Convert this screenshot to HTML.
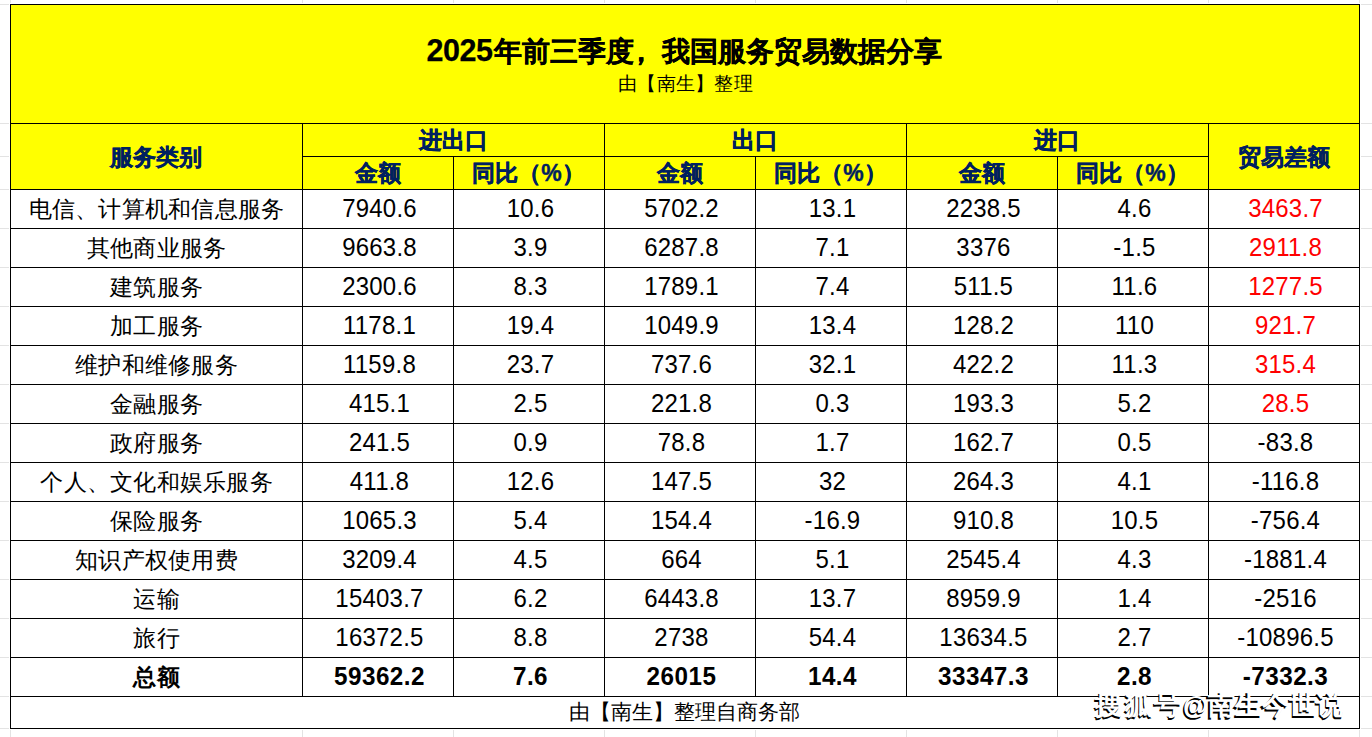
<!DOCTYPE html>
<html><head><meta charset="utf-8"><style>
html,body{margin:0;padding:0;background:#fff;width:1372px;height:737px;overflow:hidden;position:relative}
body>div{position:absolute}
.t{height:60px;line-height:60px;text-align:center;white-space:nowrap;font-family:"Liberation Sans",sans-serif;color:#000}
.title{font-size:28px;font-weight:bold;-webkit-text-stroke:0.25px #000}
.tn{font-size:30.5px;letter-spacing:-0.5px;margin-right:2px}
.sub{font-size:19px;letter-spacing:0.3px}
.hd{font-size:23px;font-weight:bold;color:#002060;-webkit-text-stroke:0.4px #002060}
.d{font-size:23px;letter-spacing:0.25px}
.n{font-size:25.5px;transform:scaleX(0.94)}
.nb{font-size:25.5px;letter-spacing:0.5px;transform:scaleX(0.95)}
.b{font-weight:bold}
.red{color:#ff0000}
.foot{font-size:21px}
.wm{font-size:27px;font-weight:bold;text-align:left;color:#fff;text-shadow:-1.5px 1.5px 0.6px #000}
.at{font-size:25px}
</style></head><body>
<div style="left:0px;top:4px;width:9px;height:1px;background:#e3e3e3;"></div>
<div style="left:1361px;top:4px;width:11px;height:1px;background:#e3e3e3;"></div>
<div style="left:0px;top:123px;width:9px;height:1px;background:#e3e3e3;"></div>
<div style="left:1361px;top:123px;width:11px;height:1px;background:#e3e3e3;"></div>
<div style="left:0px;top:156px;width:9px;height:1px;background:#e3e3e3;"></div>
<div style="left:1361px;top:156px;width:11px;height:1px;background:#e3e3e3;"></div>
<div style="left:0px;top:189px;width:9px;height:1px;background:#e3e3e3;"></div>
<div style="left:1361px;top:189px;width:11px;height:1px;background:#e3e3e3;"></div>
<div style="left:0px;top:228px;width:9px;height:1px;background:#e3e3e3;"></div>
<div style="left:1361px;top:228px;width:11px;height:1px;background:#e3e3e3;"></div>
<div style="left:0px;top:267px;width:9px;height:1px;background:#e3e3e3;"></div>
<div style="left:1361px;top:267px;width:11px;height:1px;background:#e3e3e3;"></div>
<div style="left:0px;top:306px;width:9px;height:1px;background:#e3e3e3;"></div>
<div style="left:1361px;top:306px;width:11px;height:1px;background:#e3e3e3;"></div>
<div style="left:0px;top:345px;width:9px;height:1px;background:#e3e3e3;"></div>
<div style="left:1361px;top:345px;width:11px;height:1px;background:#e3e3e3;"></div>
<div style="left:0px;top:384px;width:9px;height:1px;background:#e3e3e3;"></div>
<div style="left:1361px;top:384px;width:11px;height:1px;background:#e3e3e3;"></div>
<div style="left:0px;top:423px;width:9px;height:1px;background:#e3e3e3;"></div>
<div style="left:1361px;top:423px;width:11px;height:1px;background:#e3e3e3;"></div>
<div style="left:0px;top:462px;width:9px;height:1px;background:#e3e3e3;"></div>
<div style="left:1361px;top:462px;width:11px;height:1px;background:#e3e3e3;"></div>
<div style="left:0px;top:501px;width:9px;height:1px;background:#e3e3e3;"></div>
<div style="left:1361px;top:501px;width:11px;height:1px;background:#e3e3e3;"></div>
<div style="left:0px;top:540px;width:9px;height:1px;background:#e3e3e3;"></div>
<div style="left:1361px;top:540px;width:11px;height:1px;background:#e3e3e3;"></div>
<div style="left:0px;top:579px;width:9px;height:1px;background:#e3e3e3;"></div>
<div style="left:1361px;top:579px;width:11px;height:1px;background:#e3e3e3;"></div>
<div style="left:0px;top:618px;width:9px;height:1px;background:#e3e3e3;"></div>
<div style="left:1361px;top:618px;width:11px;height:1px;background:#e3e3e3;"></div>
<div style="left:0px;top:657px;width:9px;height:1px;background:#e3e3e3;"></div>
<div style="left:1361px;top:657px;width:11px;height:1px;background:#e3e3e3;"></div>
<div style="left:0px;top:696px;width:9px;height:1px;background:#e3e3e3;"></div>
<div style="left:1361px;top:696px;width:11px;height:1px;background:#e3e3e3;"></div>
<div style="left:0px;top:728px;width:9px;height:1px;background:#e3e3e3;"></div>
<div style="left:1361px;top:728px;width:11px;height:1px;background:#e3e3e3;"></div>
<div style="left:10px;top:0px;width:1px;height:3px;background:#e3e3e3;"></div>
<div style="left:10px;top:730px;width:1px;height:7px;background:#e3e3e3;"></div>
<div style="left:302px;top:0px;width:1px;height:3px;background:#e3e3e3;"></div>
<div style="left:302px;top:730px;width:1px;height:7px;background:#e3e3e3;"></div>
<div style="left:453px;top:0px;width:1px;height:3px;background:#e3e3e3;"></div>
<div style="left:453px;top:730px;width:1px;height:7px;background:#e3e3e3;"></div>
<div style="left:604px;top:0px;width:1px;height:3px;background:#e3e3e3;"></div>
<div style="left:604px;top:730px;width:1px;height:7px;background:#e3e3e3;"></div>
<div style="left:755px;top:0px;width:1px;height:3px;background:#e3e3e3;"></div>
<div style="left:755px;top:730px;width:1px;height:7px;background:#e3e3e3;"></div>
<div style="left:906px;top:0px;width:1px;height:3px;background:#e3e3e3;"></div>
<div style="left:906px;top:730px;width:1px;height:7px;background:#e3e3e3;"></div>
<div style="left:1057px;top:0px;width:1px;height:3px;background:#e3e3e3;"></div>
<div style="left:1057px;top:730px;width:1px;height:7px;background:#e3e3e3;"></div>
<div style="left:1208px;top:0px;width:1px;height:3px;background:#e3e3e3;"></div>
<div style="left:1208px;top:730px;width:1px;height:7px;background:#e3e3e3;"></div>
<div style="left:1359px;top:0px;width:1px;height:3px;background:#e3e3e3;"></div>
<div style="left:1359px;top:730px;width:1px;height:7px;background:#e3e3e3;"></div>
<div style="left:10px;top:4px;width:1350px;height:186px;background:#ffff00;"></div>
<div style="left:10px;top:4px;width:1350px;height:1px;background:#000;"></div>
<div style="left:10px;top:123px;width:1350px;height:1px;background:#000;"></div>
<div style="left:302px;top:156px;width:906px;height:1px;background:#000;"></div>
<div style="left:10px;top:189px;width:1350px;height:1px;background:#000;"></div>
<div style="left:10px;top:228px;width:1350px;height:1px;background:#000;"></div>
<div style="left:10px;top:267px;width:1350px;height:1px;background:#000;"></div>
<div style="left:10px;top:306px;width:1350px;height:1px;background:#000;"></div>
<div style="left:10px;top:345px;width:1350px;height:1px;background:#000;"></div>
<div style="left:10px;top:384px;width:1350px;height:1px;background:#000;"></div>
<div style="left:10px;top:423px;width:1350px;height:1px;background:#000;"></div>
<div style="left:10px;top:462px;width:1350px;height:1px;background:#000;"></div>
<div style="left:10px;top:501px;width:1350px;height:1px;background:#000;"></div>
<div style="left:10px;top:540px;width:1350px;height:1px;background:#000;"></div>
<div style="left:10px;top:579px;width:1350px;height:1px;background:#000;"></div>
<div style="left:10px;top:618px;width:1350px;height:1px;background:#000;"></div>
<div style="left:10px;top:657px;width:1350px;height:1px;background:#000;"></div>
<div style="left:10px;top:696px;width:1350px;height:1px;background:#000;"></div>
<div style="left:10px;top:728px;width:1350px;height:1px;background:#000;"></div>
<div style="left:10px;top:4px;width:1px;height:725px;background:#000;"></div>
<div style="left:1359px;top:4px;width:1px;height:725px;background:#000;"></div>
<div style="left:302px;top:123px;width:1px;height:574px;background:#000;"></div>
<div style="left:604px;top:123px;width:1px;height:574px;background:#000;"></div>
<div style="left:906px;top:123px;width:1px;height:574px;background:#000;"></div>
<div style="left:1208px;top:123px;width:1px;height:574px;background:#000;"></div>
<div style="left:453px;top:156px;width:1px;height:541px;background:#000;"></div>
<div style="left:755px;top:156px;width:1px;height:541px;background:#000;"></div>
<div style="left:1057px;top:156px;width:1px;height:541px;background:#000;"></div>
<div class="t title" style="left:10px;width:1349px;top:20px"><span class="tn">2025</span>年前三季度<span style="position:relative;left:-7px">，</span>我国服务贸易数据分享</div>
<div class="t sub" style="left:11px;width:1349px;top:54px">由【南生】整理</div>
<div class="t hd" style="left:10px;width:292px;top:127px">服务类别</div>
<div class="t hd" style="left:302px;width:302px;top:110px">进出口</div>
<div class="t hd" style="left:604px;width:302px;top:110px">出口</div>
<div class="t hd" style="left:906px;width:302px;top:110px">进口</div>
<div class="t hd" style="left:1208px;width:151px;top:127px">贸易差额</div>
<div class="t hd" style="left:302px;width:151px;top:143px">金额</div>
<div class="t hd" style="left:453px;width:151px;top:143px">同比（%）</div>
<div class="t hd" style="left:604px;width:151px;top:143px">金额</div>
<div class="t hd" style="left:755px;width:151px;top:143px">同比（%）</div>
<div class="t hd" style="left:906px;width:151px;top:143px">金额</div>
<div class="t hd" style="left:1057px;width:151px;top:143px">同比（%）</div>
<div class="t d" style="left:10.5px;width:292px;top:179px">电信、计算机和信息服务</div>
<div class="t d n" style="left:303.5px;width:151px;top:178.3px">7940.6</div>
<div class="t d n" style="left:454.5px;width:151px;top:178.3px">10.6</div>
<div class="t d n" style="left:605.5px;width:151px;top:178.3px">5702.2</div>
<div class="t d n" style="left:756.5px;width:151px;top:178.3px">13.1</div>
<div class="t d n" style="left:907.5px;width:151px;top:178.3px">2238.5</div>
<div class="t d n" style="left:1058.5px;width:151px;top:178.3px">4.6</div>
<div class="t d red n" style="left:1209.5px;width:151px;top:178.3px">3463.7</div>
<div class="t d" style="left:10.5px;width:292px;top:218px">其他商业服务</div>
<div class="t d n" style="left:303.5px;width:151px;top:217.3px">9663.8</div>
<div class="t d n" style="left:454.5px;width:151px;top:217.3px">3.9</div>
<div class="t d n" style="left:605.5px;width:151px;top:217.3px">6287.8</div>
<div class="t d n" style="left:756.5px;width:151px;top:217.3px">7.1</div>
<div class="t d n" style="left:907.5px;width:151px;top:217.3px">3376</div>
<div class="t d n" style="left:1058.5px;width:151px;top:217.3px">-1.5</div>
<div class="t d red n" style="left:1209.5px;width:151px;top:217.3px">2911.8</div>
<div class="t d" style="left:10.5px;width:292px;top:257px">建筑服务</div>
<div class="t d n" style="left:303.5px;width:151px;top:256.3px">2300.6</div>
<div class="t d n" style="left:454.5px;width:151px;top:256.3px">8.3</div>
<div class="t d n" style="left:605.5px;width:151px;top:256.3px">1789.1</div>
<div class="t d n" style="left:756.5px;width:151px;top:256.3px">7.4</div>
<div class="t d n" style="left:907.5px;width:151px;top:256.3px">511.5</div>
<div class="t d n" style="left:1058.5px;width:151px;top:256.3px">11.6</div>
<div class="t d red n" style="left:1209.5px;width:151px;top:256.3px">1277.5</div>
<div class="t d" style="left:10.5px;width:292px;top:296px">加工服务</div>
<div class="t d n" style="left:303.5px;width:151px;top:295.3px">1178.1</div>
<div class="t d n" style="left:454.5px;width:151px;top:295.3px">19.4</div>
<div class="t d n" style="left:605.5px;width:151px;top:295.3px">1049.9</div>
<div class="t d n" style="left:756.5px;width:151px;top:295.3px">13.4</div>
<div class="t d n" style="left:907.5px;width:151px;top:295.3px">128.2</div>
<div class="t d n" style="left:1058.5px;width:151px;top:295.3px">110</div>
<div class="t d red n" style="left:1209.5px;width:151px;top:295.3px">921.7</div>
<div class="t d" style="left:10.5px;width:292px;top:335px">维护和维修服务</div>
<div class="t d n" style="left:303.5px;width:151px;top:334.3px">1159.8</div>
<div class="t d n" style="left:454.5px;width:151px;top:334.3px">23.7</div>
<div class="t d n" style="left:605.5px;width:151px;top:334.3px">737.6</div>
<div class="t d n" style="left:756.5px;width:151px;top:334.3px">32.1</div>
<div class="t d n" style="left:907.5px;width:151px;top:334.3px">422.2</div>
<div class="t d n" style="left:1058.5px;width:151px;top:334.3px">11.3</div>
<div class="t d red n" style="left:1209.5px;width:151px;top:334.3px">315.4</div>
<div class="t d" style="left:10.5px;width:292px;top:374px">金融服务</div>
<div class="t d n" style="left:303.5px;width:151px;top:373.3px">415.1</div>
<div class="t d n" style="left:454.5px;width:151px;top:373.3px">2.5</div>
<div class="t d n" style="left:605.5px;width:151px;top:373.3px">221.8</div>
<div class="t d n" style="left:756.5px;width:151px;top:373.3px">0.3</div>
<div class="t d n" style="left:907.5px;width:151px;top:373.3px">193.3</div>
<div class="t d n" style="left:1058.5px;width:151px;top:373.3px">5.2</div>
<div class="t d red n" style="left:1209.5px;width:151px;top:373.3px">28.5</div>
<div class="t d" style="left:10.5px;width:292px;top:413px">政府服务</div>
<div class="t d n" style="left:303.5px;width:151px;top:412.3px">241.5</div>
<div class="t d n" style="left:454.5px;width:151px;top:412.3px">0.9</div>
<div class="t d n" style="left:605.5px;width:151px;top:412.3px">78.8</div>
<div class="t d n" style="left:756.5px;width:151px;top:412.3px">1.7</div>
<div class="t d n" style="left:907.5px;width:151px;top:412.3px">162.7</div>
<div class="t d n" style="left:1058.5px;width:151px;top:412.3px">0.5</div>
<div class="t d n" style="left:1209.5px;width:151px;top:412.3px">-83.8</div>
<div class="t d" style="left:10.5px;width:292px;top:452px">个人、文化和娱乐服务</div>
<div class="t d n" style="left:303.5px;width:151px;top:451.3px">411.8</div>
<div class="t d n" style="left:454.5px;width:151px;top:451.3px">12.6</div>
<div class="t d n" style="left:605.5px;width:151px;top:451.3px">147.5</div>
<div class="t d n" style="left:756.5px;width:151px;top:451.3px">32</div>
<div class="t d n" style="left:907.5px;width:151px;top:451.3px">264.3</div>
<div class="t d n" style="left:1058.5px;width:151px;top:451.3px">4.1</div>
<div class="t d n" style="left:1209.5px;width:151px;top:451.3px">-116.8</div>
<div class="t d" style="left:10.5px;width:292px;top:491px">保险服务</div>
<div class="t d n" style="left:303.5px;width:151px;top:490.3px">1065.3</div>
<div class="t d n" style="left:454.5px;width:151px;top:490.3px">5.4</div>
<div class="t d n" style="left:605.5px;width:151px;top:490.3px">154.4</div>
<div class="t d n" style="left:756.5px;width:151px;top:490.3px">-16.9</div>
<div class="t d n" style="left:907.5px;width:151px;top:490.3px">910.8</div>
<div class="t d n" style="left:1058.5px;width:151px;top:490.3px">10.5</div>
<div class="t d n" style="left:1209.5px;width:151px;top:490.3px">-756.4</div>
<div class="t d" style="left:10.5px;width:292px;top:530px">知识产权使用费</div>
<div class="t d n" style="left:303.5px;width:151px;top:529.3px">3209.4</div>
<div class="t d n" style="left:454.5px;width:151px;top:529.3px">4.5</div>
<div class="t d n" style="left:605.5px;width:151px;top:529.3px">664</div>
<div class="t d n" style="left:756.5px;width:151px;top:529.3px">5.1</div>
<div class="t d n" style="left:907.5px;width:151px;top:529.3px">2545.4</div>
<div class="t d n" style="left:1058.5px;width:151px;top:529.3px">4.3</div>
<div class="t d n" style="left:1209.5px;width:151px;top:529.3px">-1881.4</div>
<div class="t d" style="left:10.5px;width:292px;top:569px">运输</div>
<div class="t d n" style="left:303.5px;width:151px;top:568.3px">15403.7</div>
<div class="t d n" style="left:454.5px;width:151px;top:568.3px">6.2</div>
<div class="t d n" style="left:605.5px;width:151px;top:568.3px">6443.8</div>
<div class="t d n" style="left:756.5px;width:151px;top:568.3px">13.7</div>
<div class="t d n" style="left:907.5px;width:151px;top:568.3px">8959.9</div>
<div class="t d n" style="left:1058.5px;width:151px;top:568.3px">1.4</div>
<div class="t d n" style="left:1209.5px;width:151px;top:568.3px">-2516</div>
<div class="t d" style="left:10.5px;width:292px;top:608px">旅行</div>
<div class="t d n" style="left:303.5px;width:151px;top:607.3px">16372.5</div>
<div class="t d n" style="left:454.5px;width:151px;top:607.3px">8.8</div>
<div class="t d n" style="left:605.5px;width:151px;top:607.3px">2738</div>
<div class="t d n" style="left:756.5px;width:151px;top:607.3px">54.4</div>
<div class="t d n" style="left:907.5px;width:151px;top:607.3px">13634.5</div>
<div class="t d n" style="left:1058.5px;width:151px;top:607.3px">2.7</div>
<div class="t d n" style="left:1209.5px;width:151px;top:607.3px">-10896.5</div>
<div class="t d b" style="left:10.5px;width:292px;top:647px">总额</div>
<div class="t d b nb" style="left:303.5px;width:151px;top:646.3px">59362.2</div>
<div class="t d b nb" style="left:454.5px;width:151px;top:646.3px">7.6</div>
<div class="t d b nb" style="left:605.5px;width:151px;top:646.3px">26015</div>
<div class="t d b nb" style="left:756.5px;width:151px;top:646.3px">14.4</div>
<div class="t d b nb" style="left:907.5px;width:151px;top:646.3px">33347.3</div>
<div class="t d b nb" style="left:1058.5px;width:151px;top:646.3px">2.8</div>
<div class="t d b nb" style="left:1209.5px;width:151px;top:646.3px">-7332.3</div>
<div class="t foot" style="left:10px;width:1349px;top:681.5px">由【南生】整理自商务部</div>
<div class="t wm" style="left:1095px;width:40px;top:675px">搜</div>
<div class="t wm" style="left:1125px;width:40px;top:675px">狐</div>
<div class="t wm" style="left:1154px;width:40px;top:675px">号</div>
<div class="t wm at" style="left:1183px;width:40px;top:675px">@</div>
<div class="t wm" style="left:1207.5px;width:40px;top:675px">南</div>
<div class="t wm" style="left:1234.5px;width:40px;top:675px">生</div>
<div class="t wm" style="left:1261.5px;width:40px;top:675px">今</div>
<div class="t wm" style="left:1289px;width:40px;top:675px">世</div>
<div class="t wm" style="left:1316px;width:40px;top:675px">说</div>
</body></html>
